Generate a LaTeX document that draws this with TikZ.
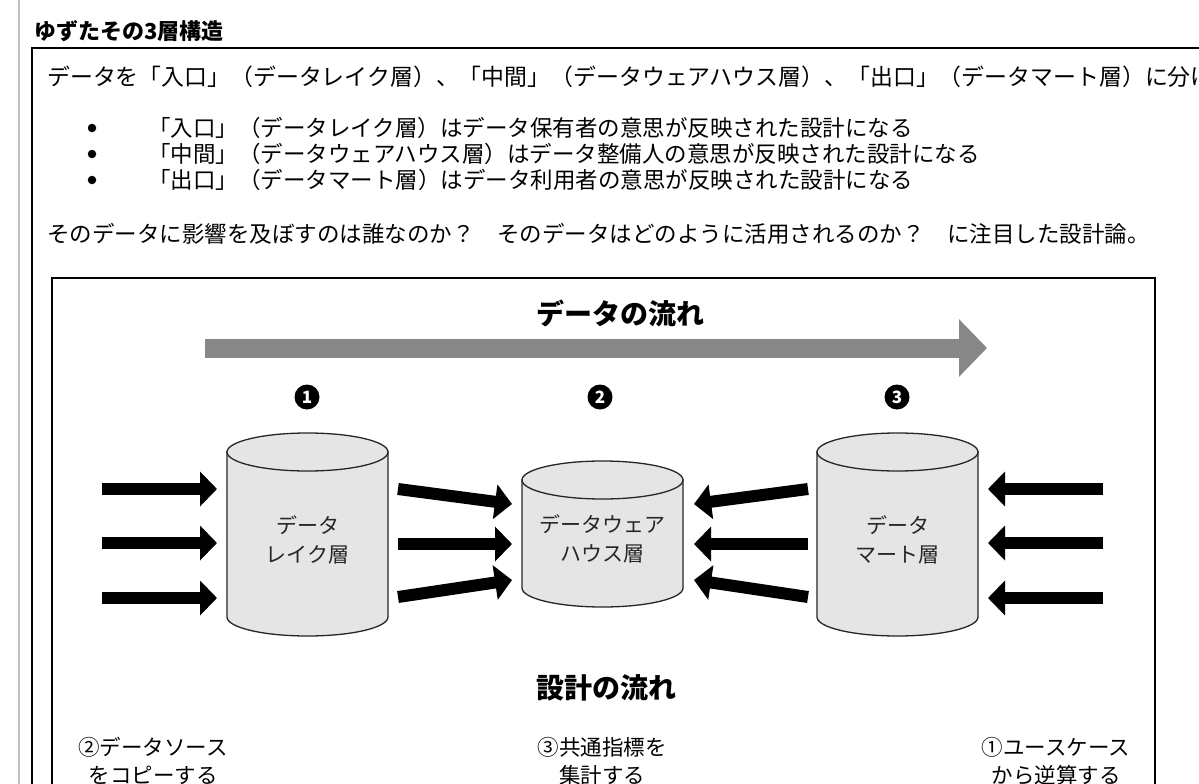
\documentclass[tikz,border=0pt]{standalone}
\usepackage{fontspec}
\setmainfont{Noto Sans CJK JP}
\usetikzlibrary{arrows.meta}

% database drum: name, centre x, top y, bottom y, label
\newcommand{\dbdrum}[5]{%
  \draw[drumbody] (#2-80.5,#3) -- (#2-80.5,#4)
    arc[start angle=180, end angle=0, x radius=80.5, y radius=19]
    -- (#2+80.5,#3) -- cycle;
  \draw[drumbody] (#2,#3) ellipse[x radius=80.5, y radius=19];
  \node[drumtext] (#1) at (#2,{(#3+#4)/2+5}) {#5};
}

\begin{document}
\begin{tikzpicture}
    [x=1pt, y=-1pt,
     drumbody/.style={draw=black!85, line width=1.3pt, fill=black!10},
     drumtext/.style={align=center, font=\fontsize{21}{29}\selectfont, text=black!85},
     flowarrow/.style={line width=12pt, -{Triangle[length=17pt,width=34pt]}},
     bigarrow/.style={line width=19pt, draw=black!47, -{Triangle[length=28pt,width=56pt]}},
     headline/.style={font=\fontsize{28}{30}\selectfont\bfseries},
     stepnum/.style={circle, fill=black, text=white, inner sep=0pt, minimum size=25pt, font=\fontsize{17}{17}\selectfont\bfseries},
     bodytext/.style={anchor=west, inner sep=0pt, font=\fontsize{22.5}{26}\selectfont},
     notetext/.style={align=center, font=\fontsize{21.5}{28}\selectfont}]
    \clip (0,0) rectangle (1199,784);
    \fill[white] (0,0) rectangle (1199,784);
    % page frame
    \draw[black!25, line width=2pt] (19,0) -- (19,784);
    \node[anchor=west, inner sep=0pt, font=\fontsize{22}{22}\selectfont\bfseries] (title) at (34,31) {ゆずたその3層構造};
    \draw[line width=1.5pt] (1210,48) -- (32,48) -- (32,800);
    % description
    \node[bodytext, font=\fontsize{22.9}{26}\selectfont] (intro) at (47,77) {データを「入口」（データレイク層）、「中間」（データウェアハウス層）、「出口」（データマート層）に分ける};
    \foreach \y/\txt [count=\i] in {128/「入口」（データレイク層）はデータ保有者の意思が反映された設計になる,
                                    154/「中間」（データウェアハウス層）はデータ整備人の意思が反映された設計になる,
                                    180/「出口」（データマート層）はデータ利用者の意思が反映された設計になる} {
        \node[circle, fill=black, inner sep=0pt, minimum size=8.5pt] (dot\i) at (92,\y) {};
        \node[bodytext] (item\i) at (148,\y) {\txt};
    }
    \node[bodytext] (question) at (47,234) {そのデータに影響を及ぼすのは誰なのか？　そのデータはどのように活用されるのか？　に注目した設計論。};
    % figure
    \draw[line width=1.5pt] (52,800) -- (52,278) -- (1155,278) -- (1155,800);
    \node[headline] (dataflow) at (620,313) {データの流れ};
    \coordinate (flowstart) at (205,348);
    \coordinate (flowend) at (987,348);
    \draw[bigarrow] (flowstart) -- (flowend);
    \node[stepnum] (n1) at (307,397) {1};
    \node[stepnum] (n2) at (600,397) {2};
    \node[stepnum] (n3) at (897,397) {3};
    \dbdrum{lake}{307.5}{452}{617}{データ\\レイク層}
    \dbdrum{wh}{602.5}{480}{588}{データウェア\\ハウス層}
    \dbdrum{mart}{897.5}{452}{617}{データ\\マート層}
    % arrows into and between the layers
    \foreach \y [count=\i] in {489,543,598} {
        \coordinate (srcA\i) at (102,\y);
        \coordinate (lakeIn\i) at (217,\y);
        \draw[flowarrow] (srcA\i) -- (lakeIn\i);
        \coordinate (srcB\i) at (1103,\y);
        \coordinate (martIn\i) at (988,\y);
        \draw[flowarrow] (srcB\i) -- (martIn\i);
    }
    \foreach \ys/\ye [count=\i] in {489/504, 544/544, 597/580} {
        \coordinate (lakeOut\i) at (398,\ys);
        \coordinate (whL\i) at (512,\ye);
        \draw[flowarrow] (lakeOut\i) -- (whL\i);
        \coordinate (martOut\i) at (808,\ys);
        \coordinate (whR\i) at (694,\ye);
        \draw[flowarrow] (martOut\i) -- (whR\i);
    }
    \node[headline] (designflow) at (606,688) {設計の流れ};
    \node[notetext] (note2) at (153,761) {②データソース\\をコピーする};
    \node[notetext] (note3) at (602,761) {③共通指標を\\集計する};
    \node[notetext] (note1) at (1056,761) {①ユースケース\\から逆算する};
\end{tikzpicture}
\end{document}
